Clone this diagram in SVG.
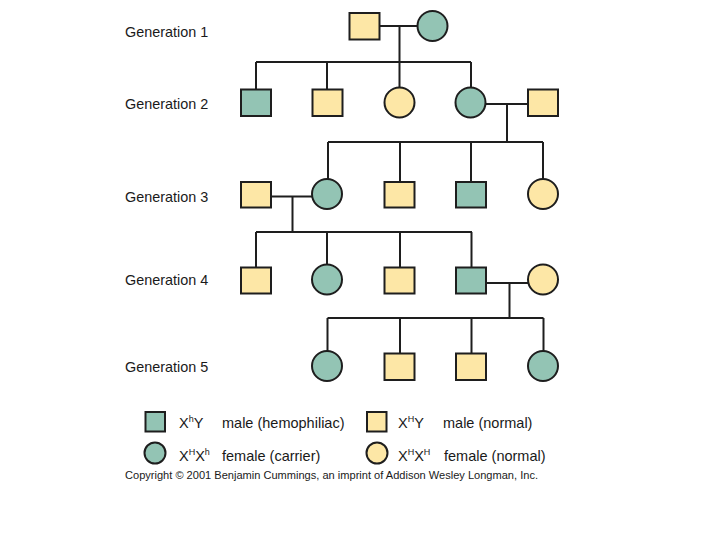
<svg xmlns="http://www.w3.org/2000/svg" width="720" height="540" viewBox="0 0 720 540">
<style>
.t{font-family:"Liberation Sans",Arial,sans-serif;font-size:14.4px;fill:#1a1a1a}
.l{font-family:"Liberation Sans",Arial,sans-serif;font-size:14.5px;fill:#1a1a1a}
.s{font-size:9px}
.c{font-family:"Liberation Sans",Arial,sans-serif;font-size:10.6px;fill:#1a1a1a}
.a{fill:#93c4b4;stroke:#1e1e1e;stroke-width:2}
.y{fill:#fde7a6;stroke:#1e1e1e;stroke-width:2}
.ln{stroke:#1e1e1e;stroke-width:2;fill:none}
</style>
<rect width="720" height="540" fill="#fff"/>
<g id="labels">
<text class="t" x="125" y="37">Generation 1</text>
<text class="t" x="125" y="109">Generation 2</text>
<text class="t" x="125" y="202">Generation 3</text>
<text class="t" x="125" y="285">Generation 4</text>
<text class="t" x="125" y="372">Generation 5</text>
</g>
<g id="connectors">
<path class="ln" d="M379 26H418M399.5 26V62M256 62H471M256 62V89M327 62V89M399.5 62V88M471 62V88"/>
<path class="ln" d="M485 104H528M507 104V142M328 142H543M328 142V180M400 142V182M471 142V182M543 142V180"/>
<path class="ln" d="M271 196.5H312M292.5 196.5V232M256 232H472M256 232V267M327 232V265M400 232V267M471.5 232V267"/>
<path class="ln" d="M486 283H528M509.5 283V318M327.5 318H543.5M327.5 318V352M400 318V353M471.5 318V353M543.5 318V352"/>
</g>
<g id="g1-father"><rect class="y" x="349.5" y="13" width="30" height="26.5"/></g>
<g id="g1-mother"><circle class="a" cx="432.5" cy="26" r="15"/></g>
<g id="g2-1"><rect class="a" x="241" y="89.5" width="30" height="26.5"/></g>
<g id="g2-2"><rect class="y" x="312.5" y="89.5" width="30" height="26.5"/></g>
<g id="g2-3"><circle class="y" cx="399.5" cy="102.5" r="15"/></g>
<g id="g2-4"><circle class="a" cx="470.5" cy="102.5" r="15"/></g>
<g id="g2-5"><rect class="y" x="528" y="89.5" width="30" height="26.5"/></g>
<g id="g3-1"><rect class="y" x="241" y="182" width="30" height="25.5"/></g>
<g id="g3-2"><circle class="a" cx="327" cy="194" r="15"/></g>
<g id="g3-3"><rect class="y" x="384.5" y="182" width="30" height="25.5"/></g>
<g id="g3-4"><rect class="a" x="456" y="182" width="30" height="25.5"/></g>
<g id="g3-5"><circle class="y" cx="543" cy="194" r="15"/></g>
<g id="g4-1"><rect class="y" x="241" y="267.5" width="30" height="26"/></g>
<g id="g4-2"><circle class="a" cx="327" cy="279.5" r="15"/></g>
<g id="g4-3"><rect class="y" x="384.5" y="267.5" width="30" height="26"/></g>
<g id="g4-4"><rect class="a" x="456" y="267.5" width="30" height="26"/></g>
<g id="g4-5"><circle class="y" cx="543" cy="279.5" r="15"/></g>
<g id="g5-1"><circle class="a" cx="327" cy="366" r="15"/></g>
<g id="g5-2"><rect class="y" x="384.5" y="353.5" width="30" height="26.5"/></g>
<g id="g5-3"><rect class="y" x="456" y="353.5" width="30" height="26.5"/></g>
<g id="g5-4"><circle class="a" cx="543" cy="366" r="15"/></g>
<g id="legend">
<rect class="a" x="145.5" y="412" width="19.5" height="19.5"/>
<text class="l" x="179" y="428">X<tspan class="s" dy="-6">h</tspan><tspan dy="6">Y</tspan></text>
<text class="l" x="222" y="428">male (hemophiliac)</text>
<rect class="y" x="367" y="412" width="19.5" height="19.5"/>
<text class="l" x="398" y="428">X<tspan class="s" dy="-6">H</tspan><tspan dy="6">Y</tspan></text>
<text class="l" x="443" y="428">male (normal)</text>
<circle class="a" cx="155" cy="453" r="10.5"/>
<text class="l" x="179" y="461">X<tspan class="s" dy="-6">H</tspan><tspan dy="6">X</tspan><tspan class="s" dy="-6">h</tspan></text>
<text class="l" x="222" y="461">female (carrier)</text>
<circle class="y" cx="377" cy="453" r="10.5"/>
<text class="l" x="398" y="461">X<tspan class="s" dy="-6">H</tspan><tspan dy="6">X</tspan><tspan class="s" dy="-6">H</tspan></text>
<text class="l" x="444" y="461">female (normal)</text>
<text class="c" x="125" y="478.5" textLength="413" lengthAdjust="spacingAndGlyphs">Copyright © 2001 Benjamin Cummings, an imprint of Addison Wesley Longman, Inc.</text>
</g>
</svg>
